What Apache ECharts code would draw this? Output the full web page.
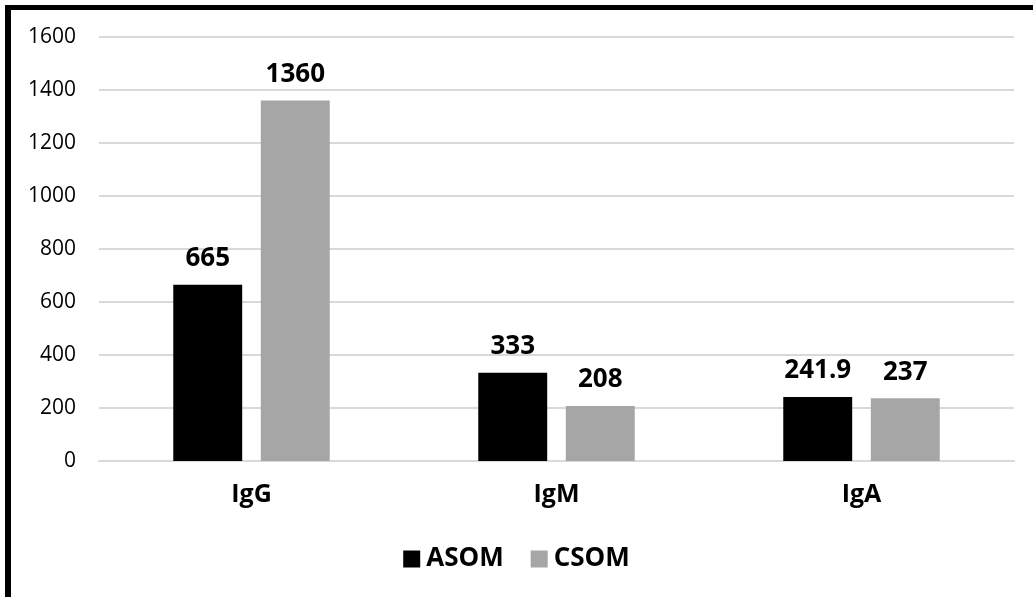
<!DOCTYPE html>
<html>
<head>
<meta charset="utf-8">
<script src="https://cdn.jsdelivr.net/npm/echarts@6/dist/echarts.min.js"></script>
<style>
  html, body { margin: 0; padding: 0; background: #fff; }
  #wrap { position: relative; width: 1033px; height: 597px; overflow: hidden; }
  #frame { position: absolute; left: 5px; top: 5px; right: -20px; bottom: -20px;
           border-left: 6px solid #000; border-top: 5px solid #000; pointer-events: none; z-index: 2; }
  #chart { position: absolute; left: 0; top: 0; width: 1033px; height: 597px; }
</style>
</head>
<body>
<div id="wrap">
  <div id="chart"></div>
  <div id="frame"></div>
</div>
<script>
// Immunoglobulin levels by group
const categories = ['IgG', 'IgM', 'IgA'];
const asomValues = [665, 333, 241.9];
const csomValues = [1360, 208, 237];
const yTicks = { min: 0, max: 1600, interval: 200 };

const FONT = 'Open Sans';

const chart = echarts.init(document.getElementById('chart'), null, { renderer: 'canvas' });

const valueLabel = {
  show: true,
  position: 'top',
  distance: 13,
  fontFamily: FONT,
  fontWeight: 'bold',
  fontSize: 26,
  color: '#000',
  formatter: p => String(p.value)
};

chart.setOption({
  animation: false,
  backgroundColor: '#fff',
  grid: { left: 99, right: 19, top: 37, bottom: 136, containLabel: false },
  legend: {
    data: ['ASOM', 'CSOM'],
    bottom: 20,
    left: 'center',
    itemWidth: 17,
    itemHeight: 17,
    itemGap: 27,
    icon: 'rect',
    textStyle: { fontFamily: FONT, fontWeight: 'bold', fontSize: 26, color: '#000', padding: [0, 0, 0, 1] }
  },
  xAxis: {
    type: 'category',
    data: categories,
    axisLine: { show: true, lineStyle: { color: '#d9d9d9', width: 2 } },
    axisTick: { show: false },
    axisLabel: { margin: 21, fontFamily: FONT, fontWeight: 'bold', fontSize: 25, color: '#000' }
  },
  yAxis: {
    type: 'value',
    min: yTicks.min,
    max: yTicks.max,
    interval: yTicks.interval,
    axisLine: { show: false },
    axisTick: { show: false },
    splitLine: { lineStyle: { color: '#d9d9d9', width: 2 } },
    axisLabel: { margin: 23, fontFamily: FONT, fontSize: 21, color: '#000', formatter: v => String(v) }
  },
  series: [
    {
      name: 'ASOM',
      type: 'bar',
      data: asomValues,
      barWidth: '22.6%',
      barGap: '27%',
      itemStyle: { color: '#000000' },
      label: valueLabel
    },
    {
      name: 'CSOM',
      type: 'bar',
      data: csomValues,
      barWidth: '22.6%',
      itemStyle: { color: '#a6a6a6' },
      label: valueLabel
    }
  ]
});
</script>
</body>
</html>
